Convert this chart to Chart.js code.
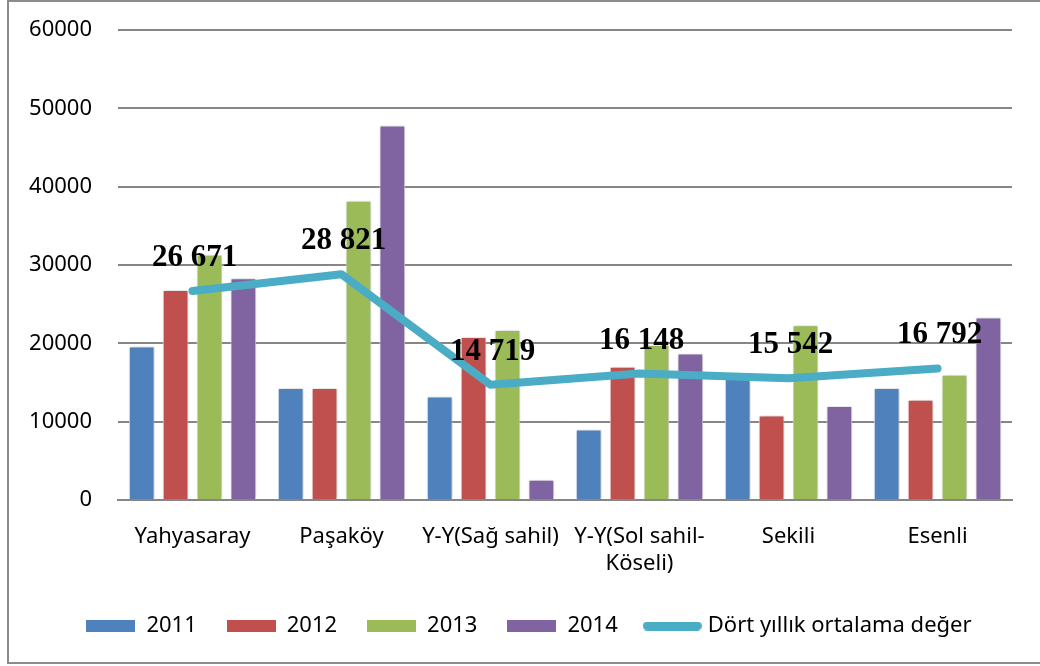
<!DOCTYPE html>
<html lang="tr">
  <head>
    <meta charset="UTF-8" />
    <title>Dört yıllık ortalama değer</title>
    <script src="https://cdn.jsdelivr.net/npm/chart.js"></script>
    <style>
      * {
        margin: 0;
        padding: 0;
        box-sizing: border-box;
      }

      body {
        background: #fff;
        overflow: hidden;
      }

      .wrap {
        position: relative;
        width: 1040px;
        height: 666px;
      }

      /* gray frame round the chart, right edge falls off the picture */
      .frame {
        position: absolute;
        left: 7px;
        top: 0;
        width: 1060px;
        height: 664px;
        border: 2px solid #8c8c8c;
        pointer-events: none;
      }
    </style>
  </head>
  <body>
    <div class="wrap">
      <canvas id="chart" width="1040" height="666"></canvas>
      <div class="frame"></div>
    </div>

    <script>
      const categories = [
        "Yahyasaray",
        "Paşaköy",
        "Y-Y(Sağ sahil)",
        ["Y-Y(Sol sahil-", "Köseli)"],
        "Sekili",
        "Esenli",
      ];
      const values2011 = [19600, 14300, 13200, 9000, 15800, 14300];
      const values2012 = [26800, 14300, 20800, 17000, 10800, 12800];
      const values2013 = [31300, 38200, 21700, 19800, 22300, 16000];
      const values2014 = [28300, 47800, 2600, 18700, 12000, 23300];
      const average = [26671, 28821, 14719, 16148, 15542, 16792];
      const averageLabels = ["26 671", "28 821", "14 719", "16 148", "15 542", "16 792"];
      const yTicks = [0, 10000, 20000, 30000, 40000, 50000, 60000];

      const colors = {
        y2011: "#4f81bd",
        y2012: "#c0504d",
        y2013: "#9bbb59",
        y2014: "#8064a2",
        avg: "#4bacc6",
      };

      // legend swatches drawn as small canvases
      function swatch(color, w, h, round) {
        const c = document.createElement("canvas");
        c.width = w;
        c.height = h;
        const g = c.getContext("2d");
        g.fillStyle = color;
        if (round) {
          g.beginPath();
          g.roundRect(0, 0, w, h, h / 2);
          g.fill();
        } else {
          g.fillRect(0, 0, w, h);
        }
        return c;
      }

      function barSet(label, data, color) {
        return {
          type: "bar",
          label: label,
          data: data,
          backgroundColor: color,
          borderColor: "#ffffff",
          borderWidth: 1,
          categoryPercentage: 0.91,
          barPercentage: 0.76,
          pointStyle: swatch(color, 49, 12, false),
          order: 2,
        };
      }

      // bold numbers above the average line
      const avgLabelPlugin = {
        id: "avgLabels",
        afterDatasetsDraw(chart) {
          const meta = chart.getDatasetMeta(4);
          const ctx = chart.ctx;
          ctx.save();
          ctx.font = "bold 31px 'Liberation Serif', 'Times New Roman', serif";
          ctx.fillStyle = "#000";
          ctx.textAlign = "center";
          ctx.textBaseline = "alphabetic";
          meta.data.forEach((pt, i) => {
            ctx.fillText(averageLabels[i], pt.x + 2, pt.y - 25);
          });
          ctx.restore();
        },
      };

      // soft gray shadow behind the bars
      const shadowPlugin = {
        id: "barShadow",
        beforeDatasetDraw(chart, args) {
          if (args.meta.type !== "bar") return;
          const ctx = chart.ctx;
          ctx.save();
          ctx.shadowColor = "rgba(0,0,0,0.25)";
          ctx.shadowBlur = 4;
          ctx.shadowOffsetX = 1;
          ctx.shadowOffsetY = 0;
        },
        afterDatasetDraw(chart, args) {
          if (args.meta.type !== "bar") return;
          chart.ctx.restore();
        },
      };

      // legend sits a bit right of the canvas centre in the original
      const legendShift = {
        id: "legendShift",
        afterLayout(chart) {
          chart.legend.left += 23;
          chart.legend.right += 23;
        },
      };

      const ctx = document.getElementById("chart").getContext("2d");

      new Chart(ctx, {
        data: {
          labels: categories,
          datasets: [
            barSet("2011", values2011, colors.y2011),
            barSet("2012", values2012, colors.y2012),
            barSet("2013", values2013, colors.y2013),
            barSet("2014", values2014, colors.y2014),
            {
              type: "line",
              label: "Dört yıllık ortalama değer",
              data: average,
              borderColor: colors.avg,
              backgroundColor: colors.avg,
              borderWidth: 8,
              borderCapStyle: "round",
              borderJoinStyle: "round",
              pointRadius: 0,
              tension: 0,
              pointStyle: swatch(colors.avg, 59, 9, true),
              order: 1,
            },
          ],
        },
        options: {
          responsive: false,
          animation: false,
          layout: {
            padding: { top: 30, right: 28, left: 0, bottom: 19 },
          },
          plugins: {
            tooltip: { enabled: false },
            legend: {
              position: "bottom",
              labels: {
                usePointStyle: true,
                pointStyleWidth: 49,
                boxHeight: 12,
                padding: 30,
                color: "#000",
                font: { family: "'Noto Sans', sans-serif", size: 22 },
                sort: (a, b) => a.datasetIndex - b.datasetIndex,
              },
            },
          },
          scales: {
            x: {
              grid: { display: false },
              border: { color: "#868686", width: 2 },
              ticks: {
                color: "#000",
                padding: 16,
                maxRotation: 0,
                autoSkip: false,
                font: { family: "'Noto Sans', sans-serif", size: 22 },
              },
              afterFit(scale) {
                scale.height = 85;
              },
            },
            y: {
              min: 0,
              max: 60000,
              afterBuildTicks(scale) {
                scale.ticks = yTicks.map((v) => ({ value: v }));
              },
              grid: { color: "#868686", lineWidth: 2, drawTicks: false },
              border: { display: false },
              ticks: {
                color: "#000",
                padding: 26,
                // small lineHeight keeps the top label from pushing the plot down
                font: { family: "'Noto Sans', sans-serif", size: 22, lineHeight: 0.3 },
                callback: (v) => String(v),
              },
              afterFit(scale) {
                scale.width = 118;
              },
            },
          },
        },
        plugins: [shadowPlugin, avgLabelPlugin, legendShift],
      });
    </script>
  </body>
</html>
